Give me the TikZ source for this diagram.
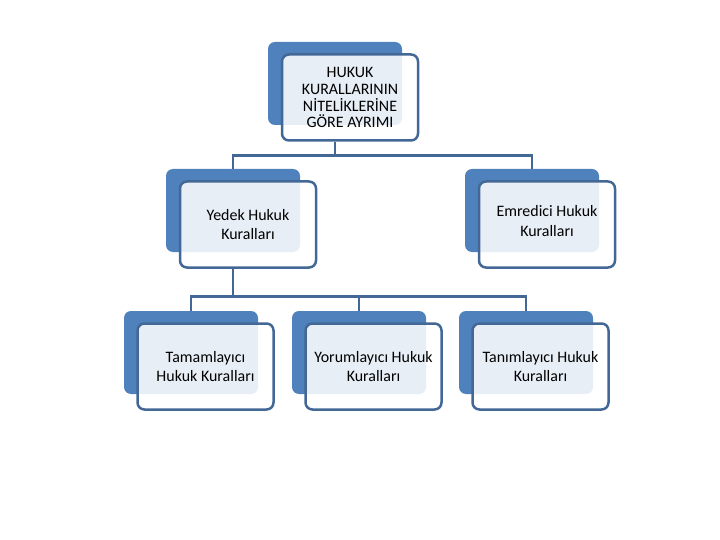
\documentclass[tikz,border=0pt]{standalone}
\usepackage{fontspec}
\setmainfont{Carlito}
\usetikzlibrary{positioning, calc}
\definecolor{backblue}{RGB}{79,129,189}
\definecolor{lineblue}{RGB}{68,104,150}

\begin{document}
\begin{tikzpicture}[
					x=1bp, y=-1bp,
					back/.style={fill=backblue, rounded corners=7bp, minimum width=134bp, minimum height=83bp, inner sep=0},
					card/.style={draw=lineblue, line width=2.5bp, rounded corners=7bp, fill=white, fill opacity=0.87, text opacity=1, minimum width=136bp, minimum height=86bp, inner sep=0, align=center, font=\fontsize{16}{20}\selectfont},
					link/.style={draw=lineblue, line width=2.8bp}
					]
					\useasboundingbox (0,0) rectangle (720,540);
					\node[back] (top) at (335,83.5) {};
					\node[card, font=\fontsize{16}{17}\selectfont] (topf) at ($(top)+(15,14)$) {HUKUK\\KURALLARININ\\NİTELİKLERİNE\\GÖRE AYRIMI};
					\node[back] (yedek) at (233,210.5) {};
					\node[card] (yedekf) at ($(yedek)+(15,14)$) {Yedek Hukuk\\Kuralları};
					\node[back] (emr) at (532,210.5) {};
					\node[card] (emrf) at ($(emr)+(15,14)$) {\raisebox{20bp}{\begin{tabular}{@{}c@{}}Emredici Hukuk\\Kuralları\end{tabular}}};
					\node[back] (tam) at (191,352.5) {};
					\node[card] (tamf) at ($(tam)+(14.5,14)$) {Tamamlayıcı\\Hukuk Kuralları};
					\node[back] (yor) at (359,352.5) {};
					\node[card] (yorf) at ($(yor)+(14.5,14)$) {Yorumlayıcı Hukuk\\Kuralları};
					\node[back] (tan) at (526,352.5) {};
					\node[card] (tanf) at ($(tan)+(14.5,14)$) {Tanımlayıcı Hukuk\\Kuralları};
					\draw[link] (top.center |- topf.south) -- ++(0,14) coordinate (hub1) -| (yedek.north);
					\draw[link] (hub1) -| (emr.north);
					\draw[link] (yedek.center |- yedekf.south) -- ++(0,28) coordinate (hub2) -| (tam.north);
					\draw[link] (hub2) -| (yor.north);
					\draw[link] (hub2) -| (tan.north);
				\end{tikzpicture}
\end{document}
